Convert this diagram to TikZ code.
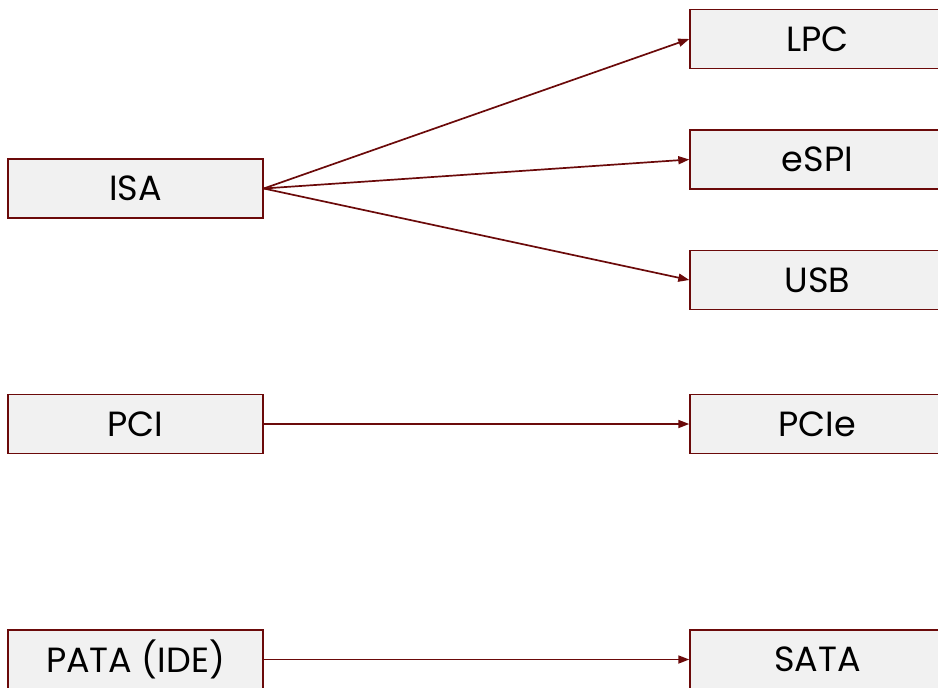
\documentclass[tikz,border=0pt]{standalone}
\usepackage{fontspec}
\setmainfont{Poppins}
\usetikzlibrary{arrows.meta}
\definecolor{edge}{HTML}{6B0A0A}
\definecolor{boxfill}{HTML}{F1F1F1}
\tikzset{
  busbox/.style={draw=edge, fill=boxfill, line width=1.4pt, minimum width=255pt, minimum height=59pt, inner sep=0pt, font=\fontsize{35}{38}\selectfont, text=black},
  conn/.style={draw=edge, line width=1.7pt, -{Stealth[length=11pt,width=8pt,inset=0pt]}}
}
\begin{document}
\begin{tikzpicture}[x=1pt,y=-1pt]
\useasboundingbox (0,0) rectangle (938,688);
\node[busbox] (isa) at (135.5,188.5) {ISA};
\node[busbox] (pci) at (135.5,424) {PCI};
\node[busbox] (pata) at (135.5,659.5) {PATA (IDE)};
\node[busbox] (lpc) at (817.5,39) {LPC};
\node[busbox] (espi) at (817.5,159.5) {eSPI};
\node[busbox] (usb) at (817.5,280) {USB};
\node[busbox] (pcie) at (817.5,424) {PCIe};
\node[busbox] (sata) at (817.5,659.5) {SATA};
\draw[conn] (isa.east) -- (lpc.west);
\draw[conn] (isa.east) -- (espi.west);
\draw[conn] (isa.east) -- (usb.west);
\draw[conn] (pci.east) -- (pcie.west);
\draw[conn] (pata.east) -- (sata.west);
\end{tikzpicture}
\end{document}
